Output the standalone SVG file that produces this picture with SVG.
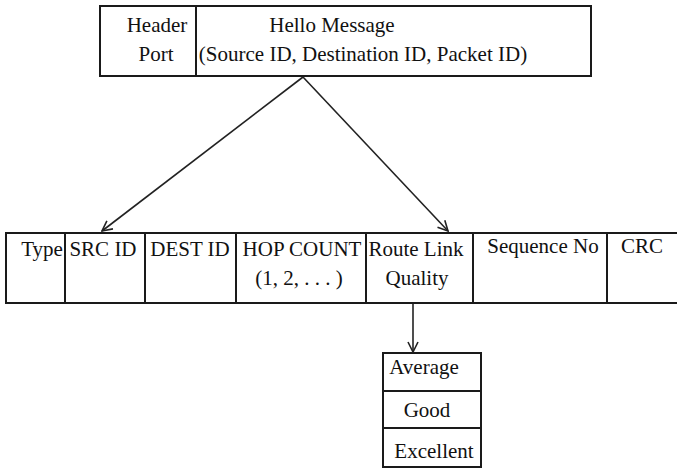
<svg xmlns="http://www.w3.org/2000/svg" width="677" height="470" viewBox="0 0 677 470">
  <style>
    .box { fill: #ffffff; stroke: #1a1a1a; stroke-width: 2; }
    .div { stroke: #1a1a1a; stroke-width: 2; fill: none; }
    .lbl { font-family: 'Liberation Serif', 'DejaVu Serif', serif; font-size: 21px; fill: #111111; text-anchor: middle; }
    .edge { stroke: #222222; stroke-width: 1.6; fill: none; marker-end: url(#vhead); }
  </style>
  <defs>
    <marker id="vhead" viewBox="0 0 12 12" refX="11" refY="6" markerWidth="12" markerHeight="12" markerUnits="userSpaceOnUse" orient="auto">
      <path d="M1,1 L11,6 L1,11" fill="none" stroke="#222222" stroke-width="1.6"/>
    </marker>
  </defs>
  <rect width="677" height="470" fill="#ffffff"/>

  <!-- hello message frame -->
  <g id="hello-message" font-family="Liberation Serif, serif">
    <rect class="box" x="100" y="6" width="491" height="70"/>
    <line class="div" x1="196" y1="6" x2="196" y2="76"/>
    <text class="lbl" x="157" y="32">Header</text>
    <text class="lbl" x="156" y="61">Port</text>
    <text class="lbl" x="332" y="32">Hello  Message</text>
    <text class="lbl" x="363" y="61">(Source ID, Destination ID, Packet ID)</text>
  </g>

  <!-- packet fields -->
  <g id="packet-fields">
    <rect class="box" x="6" y="233" width="680" height="70"/>
    <line class="div" x1="65" y1="233" x2="65" y2="303"/>
    <line class="div" x1="145" y1="233" x2="145" y2="303"/>
    <line class="div" x1="236" y1="233" x2="236" y2="303"/>
    <line class="div" x1="366" y1="233" x2="366" y2="303"/>
    <line class="div" x1="473" y1="233" x2="473" y2="303"/>
    <line class="div" x1="607" y1="233" x2="607" y2="303"/>
    <text class="lbl" x="42" y="256">Type</text>
    <text class="lbl" x="103" y="256">SRC ID</text>
    <text class="lbl" x="190" y="256">DEST ID</text>
    <text class="lbl" x="302" y="256">HOP COUNT</text>
    <text class="lbl" x="299" y="285">(1, 2, . . . )</text>
    <text class="lbl" x="416" y="256">Route Link</text>
    <text class="lbl" x="417" y="285">Quality</text>
    <text class="lbl" x="543" y="253">Sequence No</text>
    <text class="lbl" x="642" y="253">CRC</text>
  </g>

  <!-- link quality levels -->
  <g id="quality-levels">
    <rect class="box" x="383" y="353" width="98" height="114"/>
    <line class="div" x1="383" y1="391" x2="481" y2="391"/>
    <line class="div" x1="383" y1="428" x2="481" y2="428"/>
    <text class="lbl" x="424" y="374">Average</text>
    <text class="lbl" x="427" y="417">Good</text>
    <text class="lbl" x="434" y="458">Excellent</text>
  </g>

  <g id="connectors">
    <line class="edge" x1="303" y1="77" x2="102" y2="231"/>
    <line class="edge" x1="303" y1="77" x2="448" y2="231"/>
    <line class="edge" x1="413" y1="304" x2="413" y2="352"/>
  </g>
</svg>
